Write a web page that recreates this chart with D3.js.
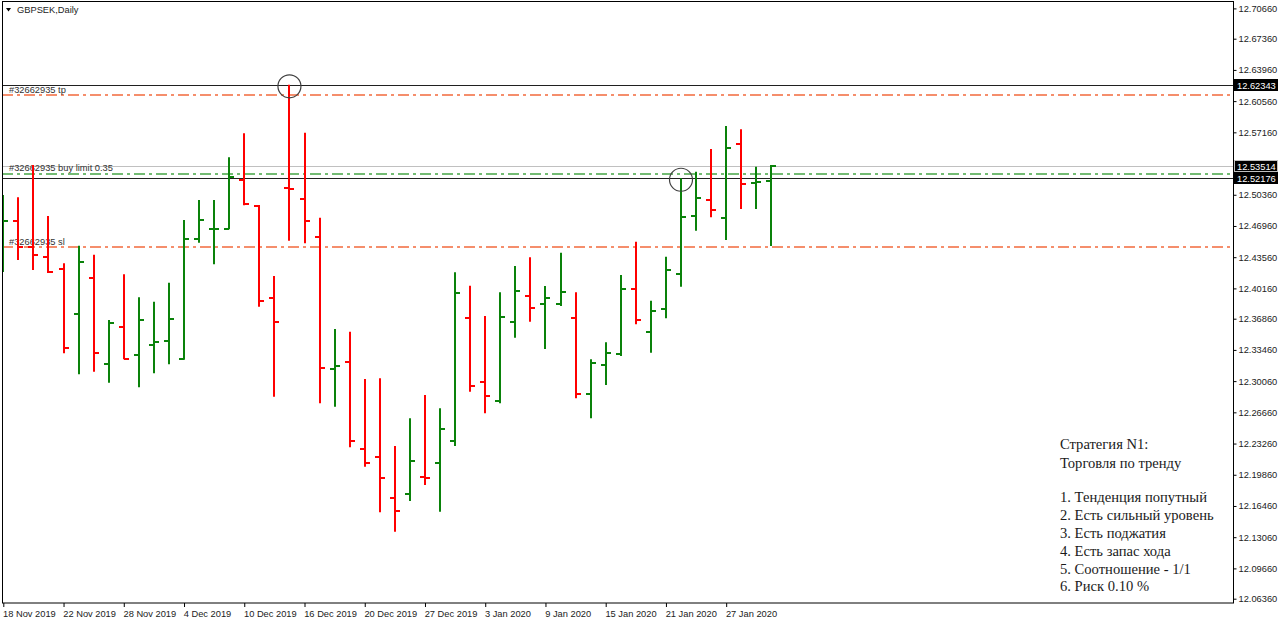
<!DOCTYPE html>
<html><head><meta charset="utf-8">
<script src="https://cdnjs.cloudflare.com/ajax/libs/d3/7.8.5/d3.min.js"></script>
<style>html,body{margin:0;padding:0;background:#fff;overflow:hidden}</style>
</head><body><svg id="c" width="1280" height="622"></svg>
<script>
const dates = ["18 Nov 2019","19 Nov 2019","20 Nov 2019","21 Nov 2019","22 Nov 2019","25 Nov 2019","26 Nov 2019","27 Nov 2019","28 Nov 2019","29 Nov 2019",
"2 Dec 2019","3 Dec 2019","4 Dec 2019","5 Dec 2019","6 Dec 2019","9 Dec 2019","10 Dec 2019","11 Dec 2019","12 Dec 2019","13 Dec 2019",
"16 Dec 2019","17 Dec 2019","18 Dec 2019","19 Dec 2019","20 Dec 2019","23 Dec 2019","24 Dec 2019","26 Dec 2019","27 Dec 2019","30 Dec 2019",
"31 Dec 2019","2 Jan 2020","3 Jan 2020","6 Jan 2020","7 Jan 2020","8 Jan 2020","9 Jan 2020","10 Jan 2020","13 Jan 2020","14 Jan 2020",
"15 Jan 2020","16 Jan 2020","17 Jan 2020","20 Jan 2020","21 Jan 2020","22 Jan 2020","23 Jan 2020","24 Jan 2020","27 Jan 2020","28 Jan 2020",
"29 Jan 2020","30 Jan 2020"];
const opens = [12.4543,12.4753,12.4464,12.4361,12.4224,12.3734,12.4133,12.3189,12.3599,12.3291,
12.3400,12.3446,12.3247,12.4554,12.4663,12.4663,12.5197,12.4914,12.3908,12.5115,
12.4987,12.4579,12.3138,12.3218,12.2267,12.2183,12.1736,12.1777,12.1958,12.2111,
12.2357,12.3690,12.2993,12.2790,12.3653,12.3937,12.3846,12.3846,12.3690,12.2866,
12.3182,12.3298,12.4010,12.3544,12.3792,12.4173,12.4805,12.4979,12.4786,12.5586,
12.5167,12.5189];
const highs = [12.5034,12.5008,12.5360,12.4805,12.4289,12.4481,12.4383,12.3672,12.4170,12.3919,
12.3871,12.4078,12.4761,12.4979,12.4979,12.5444,12.5706,12.4925,12.4151,12.6234,
12.5712,12.4786,12.3574,12.3544,12.3029,12.3037,12.2299,12.2601,12.2855,12.2710,
12.4192,12.4046,12.3715,12.3974,12.4260,12.4355,12.4042,12.4405,12.3974,12.3244,
12.3429,12.4162,12.4525,12.3882,12.4361,12.5216,12.5287,12.5535,12.5785,12.5749,
12.5342,12.5360];
const lows = [12.4195,12.4325,12.4217,12.4185,12.3309,12.3080,12.3109,12.2989,12.3244,12.2939,
12.3091,12.3189,12.3240,12.4514,12.4279,12.4660,12.4921,12.3817,12.2836,12.4536,
12.4507,12.2765,12.2727,12.2285,12.2074,12.1577,12.1366,12.1700,12.1875,12.1584,
12.2299,12.2891,12.2656,12.2765,12.3479,12.3653,12.3356,12.3824,12.2819,12.2601,
12.2964,12.3280,12.3625,12.3316,12.3690,12.4035,12.4645,12.4791,12.4543,12.4881,
12.4881,12.4478];
const closes = [12.4750,12.4464,12.4380,12.4190,12.3370,12.4307,12.3316,12.3636,12.3250,12.3672,
12.3436,12.3680,12.4554,12.4761,12.4665,12.5233,12.4936,12.3879,12.3647,12.5104,
12.4750,12.3149,12.3171,12.2357,12.2117,12.1948,12.1595,12.2139,12.1948,12.2485,
12.3969,12.2953,12.2844,12.3708,12.3988,12.3806,12.3912,12.3980,12.2866,12.3200,
12.3316,12.4010,12.3669,12.3773,12.4213,12.4797,12.5004,12.4873,12.5542,12.5157,
12.5175,12.5351];
const yTickValues = [12.70660,12.67360,12.63960,12.60560,12.57160,12.50360,12.46960,12.43560,12.40160,
12.36860,12.33460,12.30060,12.26660,12.23260,12.19860,12.16460,12.13060,12.09660,12.06360];
const blackLevels = [12.62343, 12.52176];
const bidLevel = 12.53514;
const orderLabels = ["#32662935 tp", "#32662935 buy limit 0.35", "#32662935 sl"];
const orderPrices = [12.6120, 12.5266, 12.4464];
const orderColors = ["#f26a3c", "#45a545", "#f26a3c"];
const tagPrices = [12.62343, 12.53514, 12.52176];
const circledBars = [19, 45];
const noteLines = ["Стратегия N1:", "Торговля по тренду", "", "1. Тенденция попутный", "2. Есть сильный уровень",
"3. Есть поджатия", "4. Есть запас хода", "5. Соотношение - 1/1", "6. Риск 0.10 %"];

const svg = d3.select("#c");
const L = 2, T = 2, R = 1233, B = 603;
const x = d3.scalePoint().domain(dates).range([3.3, 3.3 + 51 * 15.06]);
const y = d3.scaleLinear().domain([12.0636, 12.7066]).range([598.7, 8.4]);
const font = "'Liberation Sans', Arial, sans-serif";

svg.append("rect").attr("width", 1280).attr("height", 622).attr("fill", "#fff");
svg.append("defs").append("clipPath").attr("id", "clip")
  .append("rect").attr("x", L).attr("y", T).attr("width", R - L).attr("height", B - T);

const plot = svg.append("g").attr("clip-path", "url(#clip)");
const py = d => Math.round(y(d)) + 0.5;

// horizontal levels
plot.selectAll("line.blk").data(blackLevels).join("line").attr("class", "blk")
  .attr("x1", L).attr("x2", R).attr("y1", py).attr("y2", py)
  .attr("stroke", "#202020").attr("stroke-width", 1);
plot.append("line").attr("class", "bid").attr("x1", L).attr("x2", R)
  .attr("y1", py(bidLevel)).attr("y2", py(bidLevel))
  .attr("stroke", "#c0c0c0").attr("stroke-width", 1);
plot.selectAll("line.ord").data(orderPrices).join("line").attr("class", "ord")
  .attr("x1", L).attr("x2", R).attr("y1", d => Math.round(y(d))).attr("y2", d => Math.round(y(d)))
  .style("stroke", (d, i) => orderColors[i]).attr("stroke-width", 1.4).attr("stroke-dasharray", "11,4,3,4");
plot.selectAll("text.ordt").data(orderPrices).join("text").attr("class", "ordt")
  .attr("x", 9).attr("y", d => y(d) - 2.5).text((d, i) => orderLabels[i])
  .attr("font-family", font).attr("font-size", 9.3).attr("fill", "#333");

// OHLC bars
const bars = plot.selectAll("g.bar").data(dates).join("g").attr("class", "bar")
  .attr("stroke", (d, i) => closes[i] >= opens[i] ? "#0a820a" : "#ff0000").attr("stroke-width", 2);
bars.append("line").attr("x1", d => Math.round(x(d))).attr("x2", d => Math.round(x(d)))
  .attr("y1", (d, i) => y(highs[i])).attr("y2", (d, i) => y(lows[i]));
bars.append("line").attr("x1", d => Math.round(x(d)) - 5).attr("x2", d => Math.round(x(d)))
  .attr("y1", (d, i) => Math.round(y(opens[i]))).attr("y2", (d, i) => Math.round(y(opens[i])));
bars.append("line").attr("x1", d => Math.round(x(d))).attr("x2", d => Math.round(x(d)) + 5)
  .attr("y1", (d, i) => Math.round(y(closes[i]))).attr("y2", (d, i) => Math.round(y(closes[i])));

// circles
plot.selectAll("circle.circ").data(circledBars).join("circle").attr("class", "circ")
  .attr("cx", i => x(dates[i])).attr("cy", i => y(highs[i]) + 1.5).attr("r", 11.5)
  .attr("fill", "none").attr("stroke", "#404040").attr("stroke-width", 1.2);

// frame
svg.append("rect").attr("x", L + 0.5).attr("y", T - 0.5).attr("width", R - L).attr("height", B - T + 0.5)
  .attr("fill", "none").attr("stroke", "#000").attr("stroke-width", 1);

// axes
const yAxis = d3.axisRight(y).tickValues(yTickValues).tickSize(3).tickPadding(2).tickFormat(d => d.toFixed(5));
const ya = svg.append("g").attr("transform", `translate(${R + 0.5},0)`).call(yAxis);
ya.select(".domain").remove();
ya.selectAll("text").attr("font-family", font).attr("font-size", 9.3).attr("fill", "#222");
ya.selectAll("line").attr("stroke", "#000");

const xAxis = d3.axisBottom(x).tickValues(dates.filter((d, i) => i % 4 === 0)).tickSize(4).tickPadding(3);
const xa = svg.append("g").attr("transform", `translate(0,${B})`).call(xAxis);
xa.select(".domain").remove();
xa.selectAll("text").attr("font-family", font).attr("font-size", 9.3).attr("fill", "#222")
  .attr("text-anchor", "start").attr("dx", -0.8);
xa.selectAll("line").attr("stroke", "#000");

// price tags
const tags = svg.selectAll("g.tag").data(tagPrices).join("g").attr("class", "tag")
  .attr("transform", d => `translate(${R + 1},${Math.round(y(d))})`);
tags.append("rect").attr("x", 0.5).attr("y", -5.5).attr("width", 43).attr("height", 11)
  .attr("fill", "#000").attr("stroke", d => d === bidLevel ? "#c0c0c0" : "#000");
tags.append("text").attr("x", 3).attr("y", 3.5).text(d => d.toFixed(5))
  .attr("font-family", font).attr("font-size", 9.3).attr("fill", "#fff");

// title
svg.append("path").attr("d", "M6,8 L11,8 L8.5,11.5 Z").attr("fill", "#000");
svg.append("text").attr("x", 17).attr("y", 13).text("GBPSEK,Daily")
  .attr("font-family", font).attr("font-size", 9.3).attr("fill", "#222");

// strategy note
const noteY = [449, 467.5, 485, 502, 520, 538, 556, 573.5, 591];
svg.selectAll("text.note").data(noteLines).join("text").attr("class", "note")
  .attr("x", 1060).attr("y", (d, i) => noteY[i]).text(d => d)
  .attr("font-family", "'Liberation Serif', 'DejaVu Serif', serif").attr("font-size", 14.6).attr("fill", "#1a1a1a");
</script></body></html>
